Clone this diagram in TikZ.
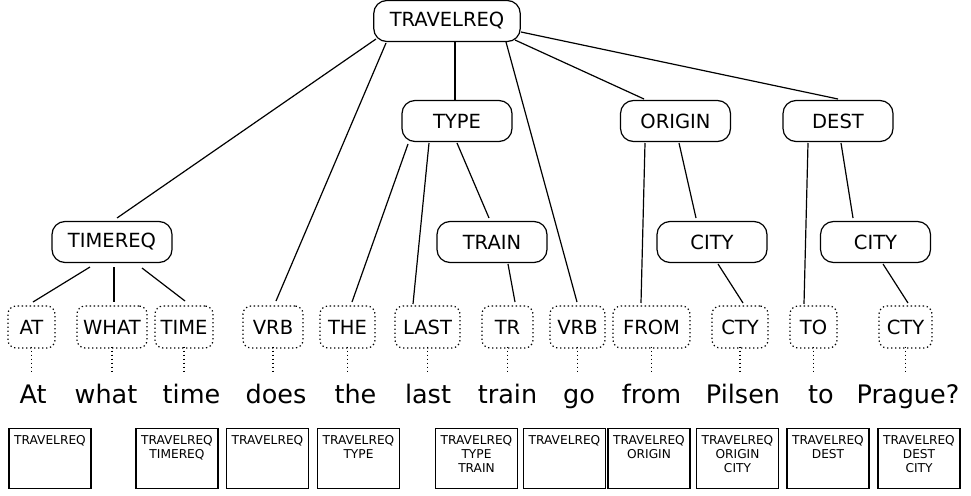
\documentclass[tikz,border=0pt]{standalone}
\usepackage{fontspec}
\setmainfont{DejaVu Sans}
\newcommand\conn[4]{\draw ([shift={#2}]#1.center) -- ([shift={#4}]#3.center);}
\begin{document}
\begin{tikzpicture}[x=1pt,y=-1pt,line width=1.2pt,
  inner/.style={draw,rounded corners=13pt,minimum width=110pt,minimum height=41pt,inner xsep=16pt,font=\fontsize{19.5}{22}\selectfont},
  pre/.style={draw,dash pattern=on 1.3pt off 2.7pt,rounded corners=8pt,minimum height=42pt,inner xsep=0pt,font=\fontsize{19.5}{22}\selectfont},
  word/.style={anchor=base,inner sep=0pt,text height=19pt,text depth=6pt,font=\fontsize{25.5}{30}\selectfont},
  info/.style={draw,anchor=north,inner sep=2pt,font=\fontsize{12.2}{14}\selectfont},
  link/.style={dash pattern=on 1.3pt off 2.7pt}]
\fill[white] (0,0) rectangle (971,495);
\useasboundingbox (0,0) rectangle (971,495);
% internal nodes
\node[inner] (tr) at (447,21) {TRAVELREQ};
\node[inner] (type) at (457,121) {TYPE};
\node[inner] (orig) at (675.5,121) {ORIGIN};
\node[inner] (dest) at (838,121) {DEST};
\node[inner] (timereq) at (112,242) {TIMEREQ};
\node[inner] (train) at (492,242) {TRAIN};
\node[inner] (city1) at (712,242) {CITY};
\node[inner] (city2) at (875.5,242) {CITY};
% preterminals
\node[pre,minimum width=47pt] (p1) at (31.5,327) {AT};
\node[pre,minimum width=70pt] (p2) at (112,327) {WHAT};
\node[pre,minimum width=58pt] (p3) at (184,327) {TIME};
\node[pre,minimum width=60pt] (p4) at (273,327) {VRB};
\node[pre,minimum width=55pt] (p5) at (347.5,327) {THE};
\node[pre,minimum width=65pt] (p6) at (427.5,327) {LAST};
\node[pre,minimum width=51pt] (p7) at (507.5,327) {TR};
\node[pre,minimum width=55pt] (p8) at (577.5,327) {VRB};
\node[pre,minimum width=77pt] (p9) at (651.5,327) {FROM};
\node[pre,minimum width=56pt] (p10) at (740,327) {CTY};
\node[pre,minimum width=47pt] (p11) at (813.5,327) {TO};
\node[pre,minimum width=53pt] (p12) at (905.5,327) {CTY};
% words
\node[word] (w1) at (33,403) {At};
\node[word] (w2) at (106,403) {what};
\node[word] (w3) at (191.5,403) {time};
\node[word] (w4) at (276,403) {does};
\node[word] (w5) at (355.5,403) {the};
\node[word] (w6) at (428,403) {last};
\node[word] (w7) at (507.5,403) {train};
\node[word] (w8) at (579,403) {go};
\node[word] (w9) at (651.5,403) {from};
\node[word] (w10) at (743,403) {Pilsen};
\node[word] (w11) at (821,403) {to};
\node[word] (w12) at (908,403) {Prague?};
% dotted links
\foreach \i in {1,...,12}{
  \draw[link] ([yshift=2pt]p\i.south) -- ([yshift=9pt]p\i.south |- w\i.north);
}
% tree edges
\conn{tr}{(-71,18)}{timereq}{(5,-24)}
\conn{tr}{(-61,22)}{p4}{(3,-26)}
\conn{tr}{(8,21)}{type}{(-2,-20)}
\conn{tr}{(59,21)}{p8}{(-0.5,-25)}
\conn{tr}{(68,19)}{orig}{(-31.5,-22)}
\conn{tr}{(74,11)}{dest}{(0,-22)}
\conn{type}{(-49,23)}{p5}{(4.5,-25)}
\conn{type}{(-28,22)}{p6}{(-14.5,-23)}
\conn{type}{(0,22)}{train}{(-3,-24)}
\conn{train}{(16,22)}{p7}{(7.5,-25)}
\conn{orig}{(-30.5,22)}{p9}{(-10.5,-24)}
\conn{orig}{(3.5,22)}{city1}{(-16,-24)}
\conn{dest}{(-30,22)}{p11}{(-9.5,-23)}
\conn{dest}{(3,22)}{city2}{(-22.5,-24)}
\conn{city1}{(6,22)}{p10}{(3,-24)}
\conn{city2}{(7.5,22)}{p12}{(2.5,-24)}
\conn{timereq}{(-22,25)}{p1}{(1.5,-25)}
\conn{timereq}{(2,25)}{p2}{(2,-25)}
\conn{timereq}{(30,26)}{p3}{(1,-26)}
% info boxes
\node[info] (b1) at (50,428) {\parbox[t][56pt][t]{78pt}{\centering\rule{0pt}{14pt}TRAVELREQ}};
\node[info] (b2) at (177,428) {\parbox[t][56pt][t]{78pt}{\centering\rule{0pt}{14pt}TRAVELREQ\\TIMEREQ}};
\node[info] (b3) at (267.5,428) {\parbox[t][56pt][t]{78pt}{\centering\rule{0pt}{14pt}TRAVELREQ}};
\node[info] (b4) at (358.5,428) {\parbox[t][56pt][t]{78pt}{\centering\rule{0pt}{14pt}TRAVELREQ\\TYPE}};
\node[info] (b5) at (476.5,428) {\parbox[t][56pt][t]{78pt}{\centering\rule{0pt}{14pt}TRAVELREQ\\TYPE\\TRAIN}};
\node[info] (b6) at (564.5,428) {\parbox[t][56pt][t]{78pt}{\centering\rule{0pt}{14pt}TRAVELREQ}};
\node[info] (b7) at (649,428) {\parbox[t][56pt][t]{78pt}{\centering\rule{0pt}{14pt}TRAVELREQ\\ORIGIN}};
\node[info] (b8) at (737.5,428) {\parbox[t][56pt][t]{78pt}{\centering\rule{0pt}{14pt}TRAVELREQ\\ORIGIN\\CITY}};
\node[info] (b9) at (828,428) {\parbox[t][56pt][t]{78pt}{\centering\rule{0pt}{14pt}TRAVELREQ\\DEST}};
\node[info] (b10) at (919,428) {\parbox[t][56pt][t]{78pt}{\centering\rule{0pt}{14pt}TRAVELREQ\\DEST\\CITY}};
\end{tikzpicture}
\end{document}
